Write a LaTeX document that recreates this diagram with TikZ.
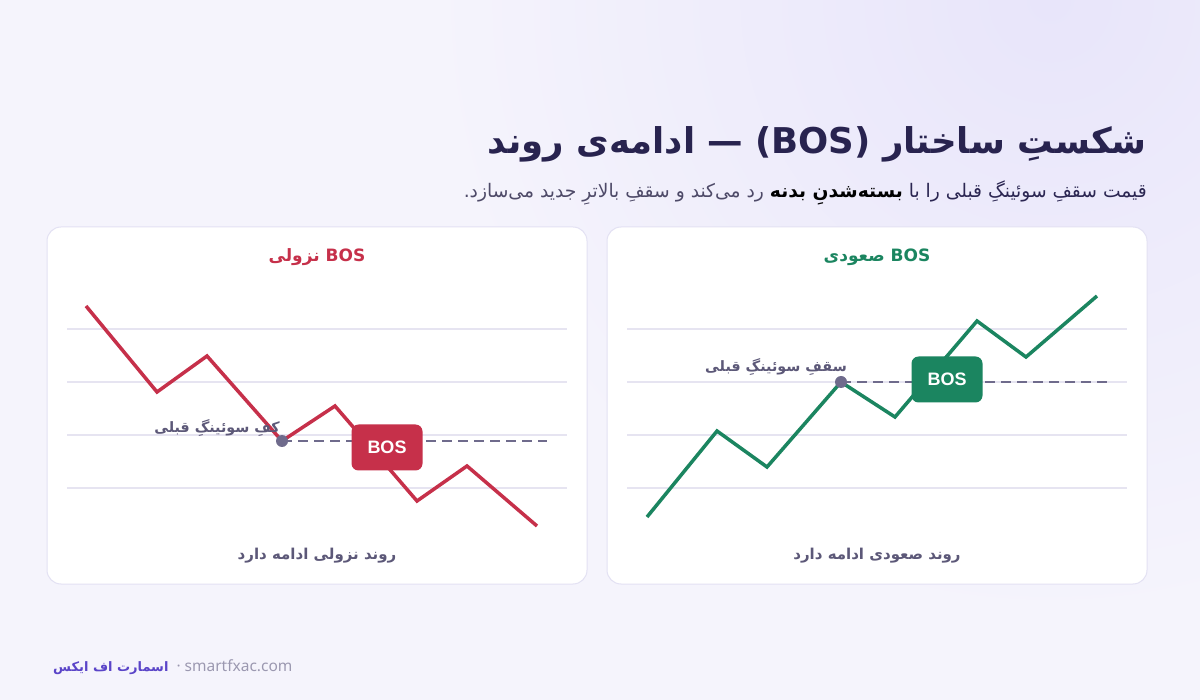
\documentclass[tikz,border=0pt]{standalone}
\usepackage{fontspec}
\setmainfont{Liberation Sans}
\newfontfamily\fa[Script=Arabic]{DejaVu Sans}
\newfontfamily\lat{Noto Sans}
\TeXXeTstate=1
\definecolor{bg}{HTML}{F5F4FC}
\definecolor{bgglow}{HTML}{E8E5FA}
\definecolor{titlec}{HTML}{28234F}
\definecolor{subc}{HTML}{4E4A68}
\definecolor{subb}{HTML}{2B2652}
\definecolor{panelborder}{HTML}{E3E1F3}
\definecolor{gridc}{HTML}{E6E4F1}
\definecolor{upc}{HTML}{1B8560}
\definecolor{downc}{HTML}{C6304A}
\definecolor{levelc}{HTML}{6F6B8C}
\definecolor{labelc}{HTML}{5C5878}
\definecolor{footp}{HTML}{5A44C8}
\definecolor{footg}{HTML}{9B98B0}
\tikzset{
  panel/.style={draw=panelborder, line width=1pt, fill=white, rounded corners=14pt},
  gridline/.style={draw=gridc, line width=1.5pt},
  priceline/.style={line width=3.5pt, line join=miter, line cap=butt},
  levelline/.style={draw=levelc, line width=2.5pt, dash pattern=on 10pt off 6pt},
  leveldot/.style={circle, fill=levelc, inner sep=0pt, minimum size=12pt},
  bosbox/.style={rounded corners=7pt, minimum width=71pt, minimum height=46pt, inner sep=0pt, text=white, font=\bfseries\fontsize{18}{20}\selectfont},
  paneltitle/.style={font=\fa\bfseries\fontsize{17}{20}\selectfont, anchor=base},
  lbl/.style={text=labelc, font=\fa\bfseries\fontsize{14.3}{18}\selectfont, inner sep=0pt},
  bottomlbl/.style={text=labelc, font=\fa\bfseries\fontsize{15}{18}\selectfont, inner sep=0pt, anchor=base},
}
\begin{document}
\begin{tikzpicture}[x=1pt,y=-1pt]
\useasboundingbox (0,0) rectangle (1200,700);
\fill[bg] (0,0) rectangle (1200,700);
\begin{scope}
\clip (0,0) rectangle (1200,700);
\shade[inner color=bgglow, outer color=bg] (1050,0) circle (620);
\end{scope}

% title
\node[anchor=base east, inner sep=0pt, text=titlec, font=\fa\bfseries\fontsize{35.5}{40}\selectfont] (title) at (1147,154)
  {\beginR ادامه^^^^200cی روند\endR{} — (BOS) \beginR شکستِ ساختار\endR};
\node[anchor=base east, inner sep=0pt, text=subc, font=\fa\fontsize{18.7}{22}\selectfont] (sub) at (1147,198)
  {.\beginR قیمت سقفِ سوئینگِ قبلی را با {\bfseries\color{subb}بسته^^^^200cشدنِ بدنه} رد می^^^^200cکند و سقفِ بالاترِ جدید می^^^^200cسازد\endR};

% panels
\path[panel] (47,227) rectangle (587,584);
\path[panel] (607,227) rectangle (1147,584);

% grid lines
\foreach \yy in {329,382,435,488} {
  \draw[gridline] (67,\yy) -- (567,\yy);
  \draw[gridline] (627,\yy) -- (1127,\yy);
}

% ---- left panel (bearish) ----
\node[paneltitle, text=downc] (ltitle) at (317,262) {\beginR\beginL BOS\endL{} نزولی\endR};
\coordinate (d1) at (86,306);
\coordinate (d2) at (157,392);
\coordinate (d3) at (207,356);
\coordinate (d4) at (282,441);
\coordinate (d5) at (335,406);
\coordinate (d6) at (417,501);
\coordinate (d7) at (467,466);
\coordinate (d8) at (537,526);
\coordinate (dend) at (547,441);
\draw[priceline, downc] (d1) -- (d2) -- (d3) -- (d4) -- (d5) -- (d6) -- (d7) -- (d8);
\draw[levelline] (d4) -- (dend);
\node[leveldot] (ddot) at (d4) {};
\node[bosbox, fill=downc] (bosL) at (387,447.5) {BOS};
\node[lbl, anchor=base east] (llabel) at (280,433) {\beginR کفِ سوئینگِ قبلی\endR};
\node[bottomlbl] (lbottom) at (317,559) {\beginR روند نزولی ادامه دارد\endR};

% ---- right panel (bullish) ----
\node[paneltitle, text=upc] (rtitle) at (877,262) {\beginR\beginL BOS\endL{} صعودی\endR};
\coordinate (u1) at (647,517);
\coordinate (u2) at (717,431);
\coordinate (u3) at (767,467);
\coordinate (u4) at (841,382);
\coordinate (u5) at (895,417);
\coordinate (u6) at (977,321);
\coordinate (u7) at (1026,357);
\coordinate (u8) at (1097,296);
\coordinate (uend) at (1107,382);
\draw[priceline, upc] (u1) -- (u2) -- (u3) -- (u4) -- (u5) -- (u6) -- (u7) -- (u8);
\draw[levelline] (u4) -- (uend);
\node[leveldot] (udot) at (u4) {};
\node[bosbox, fill=upc] (bosR) at (947,379.5) {BOS};
\node[lbl, anchor=base east] (rlabel) at (847,372) {\beginR سقفِ سوئینگِ قبلی\endR};
\node[bottomlbl] (rbottom) at (877,559) {\beginR روند صعودی ادامه دارد\endR};

% footer
\node[anchor=base west, inner sep=0pt] (footer) at (53,671)
  {{\fa\bfseries\fontsize{13}{16}\selectfont\color{footp}\beginR اسمارت اف ایکس\endR}{\lat\fontsize{15.5}{18}\selectfont\color{footg}\ \ · smartfxac.com}};
\end{tikzpicture}
\end{document}
